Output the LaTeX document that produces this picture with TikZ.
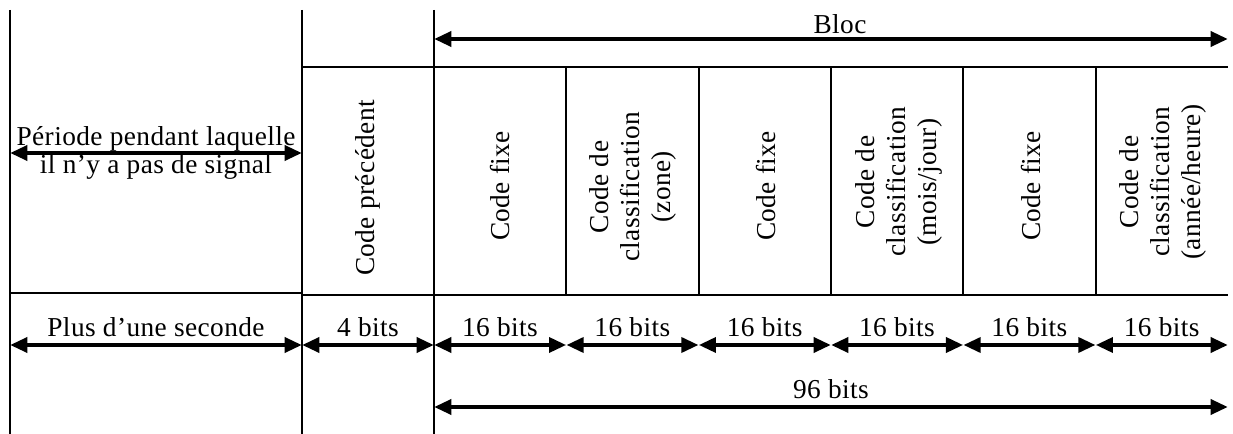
\documentclass[tikz,border=0pt]{standalone}
\usepackage{fontspec}
\setmainfont{Liberation Serif}[LetterSpace=1.5]
\usetikzlibrary{arrows.meta}

\tikzset{
  rule/.style={line width=1.3pt},
  dimarrow/.style={line width=3.4pt,{Triangle[length=13pt,width=11pt]}-{Triangle[length=13pt,width=11pt]}},
  lbl/.style={inner sep=0.75pt,font=\fontsize{20.5}{21}\selectfont},
  vlbl/.style={lbl,rotate=90,align=center,font=\fontsize{20.5}{23.5}\selectfont},
}

\begin{document}
\begin{tikzpicture}[x=0.75pt,y=0.75pt,yscale=-1,xscale=1]
\useasboundingbox (0,0) rectangle (1233,434);
% long vertical rules
\foreach \x in {10,302,434} \draw[rule] (\x,10) -- (\x,434);
% frame of the fields
\draw[rule] (302,67) -- (1228,67);
\draw[rule] (302,295) -- (1228,295);
\draw[rule] (10,293) -- (302,293);
\foreach \i in {1,...,5} \draw[rule] ({434+132.33*\i},67) -- ({434+132.33*\i},295);

% end points of the arrows
\coordinate (blocL) at (434,39);
\coordinate (blocR) at (1228,39);
\coordinate (perL) at (10,153);
\coordinate (perR) at (302,153);
\coordinate (totL) at (434,407);
\coordinate (totR) at (1228,407);
\coordinate (q0) at (10,345);
\coordinate (q1) at (302,345);
\foreach \i in {0,...,6} \coordinate (c\i) at ({434+132.33*\i},345);

% arrows
\draw[dimarrow] (blocL) -- (blocR);
\draw[dimarrow] (perL) -- (perR);
\draw[dimarrow] (totL) -- (totR);
\draw[dimarrow] (q0) -- (q1);
\draw[dimarrow] (q1) -- (c0);
\foreach \i [evaluate=\i as \j using int(\i+1)] in {0,...,5} \draw[dimarrow] (c\i) -- (c\j);

% labels on the arrows
\node[lbl,anchor=south] (bloc) at (840,35) {Bloc};
\node[lbl,align=center] (periode) at (156,153) {Période pendant laquelle\\il n’y a pas de signal};
\node[lbl,anchor=south] (plus) at (156,338) {Plus d’une seconde};
\node[lbl,anchor=south] (quatre) at (368,338) {4 bits};
\foreach \i in {0,...,5} \node[lbl,anchor=south] (b\i) at ({500+132.33*\i},338) {16 bits};
\node[lbl,anchor=south] (total) at (831,400) {96 bits};

% field names
\node[vlbl] (prec) at (368,188) {Code précédent};
\node[vlbl] (fixe1) at (500,186) {Code fixe};
\node[vlbl] (zone) at (633,187) {Code de\\classification\\(zone)};
\node[vlbl] (fixe2) at (766,186) {Code fixe};
\node[vlbl] (mois) at (899,182) {Code de\\classification\\(mois/jour)};
\node[vlbl] (fixe3) at (1031,186) {Code fixe};
\node[vlbl] (annee) at (1163,182) {Code de\\classification\\(année/heure)};
\end{tikzpicture}
\end{document}
